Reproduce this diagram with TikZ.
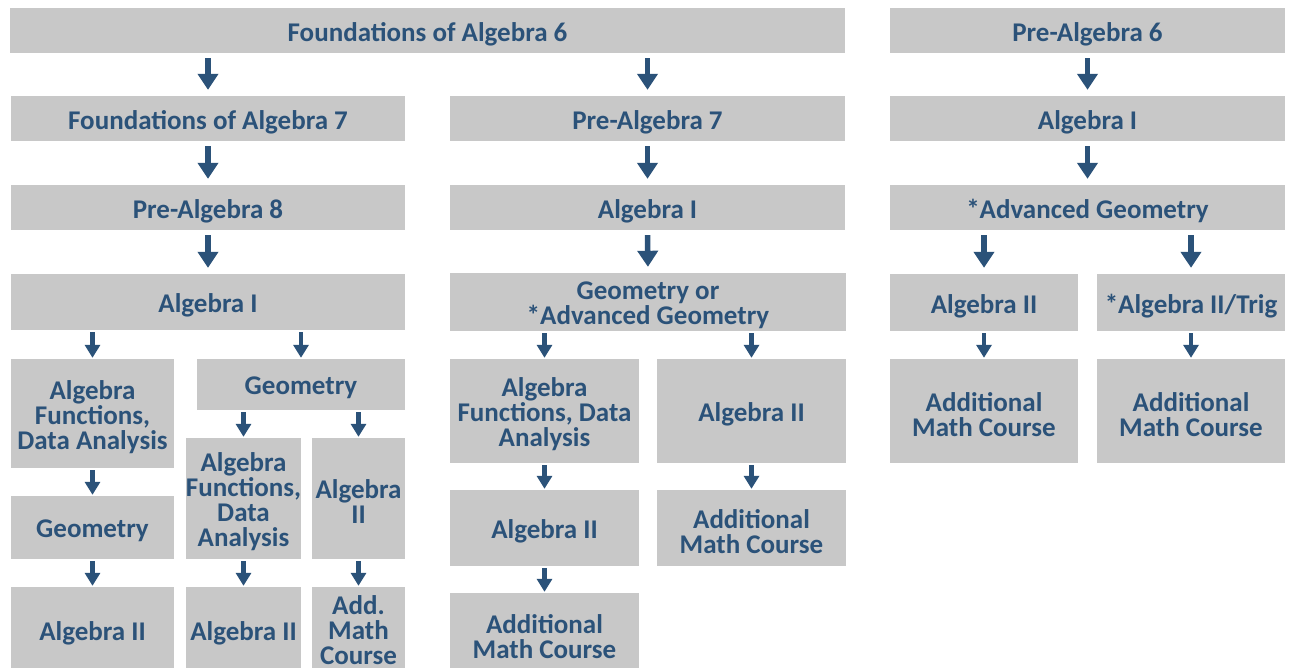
\documentclass[tikz,border=0pt]{standalone}
\usepackage{fontspec}
\setmainfont{Carlito}
\usetikzlibrary{arrows.meta}
\definecolor{boxgray}{HTML}{C8C8C8}
\definecolor{navy}{HTML}{2B5279}
\tikzset{
  box/.style={fill=boxgray, inner sep=0pt},
  txt/.style={align=center, text=navy, inner sep=0pt, yshift=-3.5pt,
    font=\bfseries\fontsize{27}{25}\selectfont},
  bigarr/.style={draw=navy, line width=5.5pt, -{Triangle[width=20pt,length=16pt]},
    shorten <=5pt, shorten >=6pt},
  smallarr/.style={draw=navy, line width=4.5pt, -{Triangle[width=15pt,length=13pt]},
    shorten <=2pt, shorten >=1pt}
}
\begin{document}
\begin{tikzpicture}[x=1pt,y=-1pt]
\clip (0,0) rectangle (1290,667);
\fill[white] (0,0) rectangle (1290,667);
% row 1
\node[box, minimum width=835pt, minimum height=45pt, label={[txt]center:Foundations of Algebra 6}] (fa6) at (427.5,30.5) {};
\node[box, minimum width=395pt, minimum height=45pt, label={[txt]center:Pre-Algebra 6}] (pa6) at (1087.5,30.5) {};
% row 2
\node[box, minimum width=394pt, minimum height=45pt, label={[txt]center:Foundations of Algebra 7}] (fa7) at (208,118.5) {};
\node[box, minimum width=395pt, minimum height=45pt, label={[txt]center:Pre-Algebra 7}] (pa7) at (647.5,118.5) {};
\node[box, minimum width=395pt, minimum height=45pt, label={[txt]center:Algebra I}] (ra1) at (1087.5,118.5) {};
% row 3
\node[box, minimum width=394pt, minimum height=45pt, label={[txt]center:Pre-Algebra 8}] (pa8) at (208,207.5) {};
\node[box, minimum width=395pt, minimum height=45pt, label={[txt]center:Algebra I}] (ma1) at (647.5,207.5) {};
\node[box, minimum width=395pt, minimum height=45pt, label={[txt]center:*Advanced Geometry}] (radv) at (1087.5,207.5) {};
% row 4
\node[box, minimum width=394pt, minimum height=56pt, label={[txt]center:Algebra I}] (la1) at (208,302) {};
\node[box, minimum width=396pt, minimum height=58pt, label={[txt]center:{Geometry or\\*Advanced Geometry}}] (mgeo) at (648,302) {};
\node[box, minimum width=188pt, minimum height=57pt, label={[txt]center:Algebra II}] (ra2) at (984,302.5) {};
\node[box, minimum width=188pt, minimum height=57pt, label={[txt]center:*Algebra II/Trig}] (rtrig) at (1191,302.5) {};
% row 5
\node[box, minimum width=163pt, minimum height=109pt, label={[txt]center:{Algebra\\Functions,\\Data Analysis}}] (lafda) at (92.5,413.5) {};
\node[box, minimum width=208pt, minimum height=51pt, label={[txt]center:Geometry}] (lgeo) at (301,384.5) {};
\node[box, minimum width=189pt, minimum height=104pt, label={[txt]center:{Algebra\\Functions, Data\\Analysis}}] (mafda) at (544.5,411) {};
\node[box, minimum width=189pt, minimum height=104pt, label={[txt]center:Algebra II}] (ma2r) at (751.5,411) {};
\node[box, minimum width=188pt, minimum height=104pt, label={[txt]center:{Additional\\Math Course}}] (ramc) at (984,411) {};
\node[box, minimum width=188pt, minimum height=104pt, label={[txt]center:{Additional\\Math Course}}] (rtamc) at (1191,411) {};
% row 6
\node[box, minimum width=163pt, minimum height=63pt, label={[txt]center:Geometry}] (lgeo2) at (92.5,527.5) {};
\node[box, minimum width=115pt, minimum height=121pt, label={[txt]center:{Algebra\\Functions,\\Data\\Analysis}}] (lafda2) at (243.5,498.5) {};
\node[box, minimum width=93pt, minimum height=121pt, label={[txt]center:{Algebra\\II}}] (la2b) at (358.5,498.5) {};
\node[box, minimum width=189pt, minimum height=76pt, label={[txt]center:Algebra II}] (ma2) at (544.5,528) {};
\node[box, minimum width=189pt, minimum height=76pt, label={[txt]center:{Additional\\Math Course}}] (mamc) at (751.5,528) {};
% row 7
\node[box, minimum width=163pt, minimum height=86pt, label={[txt]center:Algebra II}] (la2c) at (92.5,630) {};
\node[box, minimum width=115pt, minimum height=86pt, label={[txt]center:Algebra II}] (la2d) at (243.5,630) {};
\node[box, minimum width=93pt, minimum height=86pt, label={[txt, yshift=3pt]center:{Add.\\Math\\Course}}] (laddmc) at (358.5,630) {};
\node[box, minimum width=189pt, minimum height=80pt, label={[txt]center:{Additional\\Math Course}}] (mamc2) at (544.5,633) {};
% big arrows
\draw[bigarr] (fa6.south -| fa7) -- (fa7.north);
\draw[bigarr] (fa6.south -| pa7) -- (pa7.north);
\draw[bigarr] (pa6.south) -- (ra1.north);
\draw[bigarr] (fa7.south) -- (pa8.north);
\draw[bigarr] (pa8.south) -- (la1.north);
\draw[bigarr] (pa7.south) -- (ma1.north);
\draw[bigarr] (ma1.south) -- (mgeo.north);
\draw[bigarr] (ra1.south) -- (radv.north);
\draw[bigarr] (radv.south -| ra2) -- (ra2.north);
\draw[bigarr] (radv.south -| rtrig) -- (rtrig.north);
% small arrows
\draw[smallarr] (la1.south -| lafda) -- (lafda.north);
\draw[smallarr] (la1.south -| lgeo) -- (lgeo.north);
\draw[smallarr] (lgeo.south -| lafda2) -- (lafda2.north);
\draw[smallarr] (lgeo.south -| la2b) -- (la2b.north);
\draw[smallarr] (lafda.south) -- (lgeo2.north);
\draw[smallarr] (lgeo2.south) -- (la2c.north);
\draw[smallarr] (lafda2.south) -- (la2d.north);
\draw[smallarr] (la2b.south) -- (laddmc.north);
\draw[smallarr] (mgeo.south -| mafda) -- (mafda.north);
\draw[smallarr] (mgeo.south -| ma2r) -- (ma2r.north);
\draw[smallarr] (mafda.south) -- (ma2.north);
\draw[smallarr] (ma2r.south) -- (mamc.north);
\draw[smallarr] (ma2.south) -- (mamc2.north);
\draw[smallarr] (ra2.south) -- (ramc.north);
\draw[smallarr] (rtrig.south) -- (rtamc.north);
\end{tikzpicture}
\end{document}
